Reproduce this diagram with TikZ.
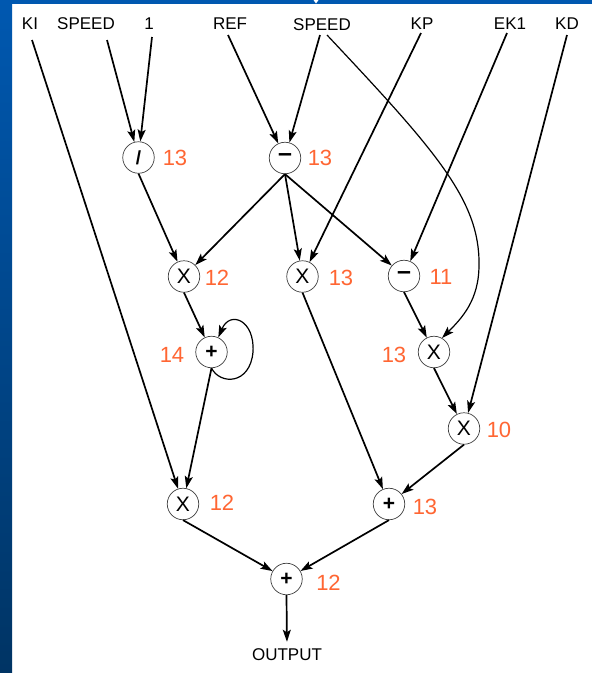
\documentclass[tikz,border=0pt]{standalone}
\usepackage{fontspec}
\setmainfont{Liberation Sans}
\usetikzlibrary{arrows.meta}
\definecolor{numor}{RGB}{255,102,51}
\definecolor{bluetop}{RGB}{0,88,176}
\definecolor{bluebot}{RGB}{0,52,100}
\begin{document}
\begin{tikzpicture}[x=1pt,y=-1pt,
  op/.style={circle,draw=black!75,line width=0.7pt,minimum size=31.5pt,inner sep=0pt,fill=white},
  num/.style={text=numor,font=\fontsize{22}{22}\selectfont,inner sep=0pt},
  lab/.style={font=\fontsize{17}{17}\selectfont,inner sep=0pt},
  arr/.style={line width=1.7pt,-{Stealth[length=12pt,width=8pt,inset=2.5pt]}},
  thinarr/.style={line width=1.2pt,-{Stealth[length=12pt,width=8pt,inset=2.5pt]}},
  xs/.style={font=\fontsize{21}{21}\selectfont},
  ps/.style={font=\fontsize{21}{21}\selectfont\bfseries},
  ms/.style={font=\fontsize{25}{25}\selectfont\bfseries},
  ds/.style={font=\fontsize{19}{19}\selectfont\bfseries}
]
% background
\useasboundingbox (0,0) rectangle (592,673);
\fill[white] (0,0) rectangle (592,673);
\shade[top color=bluetop,bottom color=bluebot] (0,0) rectangle (12,673);
\fill[bluetop] (0,0) rectangle (592,4);
\fill[white] (313.5,0) -- (318.5,0) -- (316,3.5) -- cycle;

% top labels
\node[lab] (lKI) at (30,24) {KI};
\node[lab] (lS1) at (86,24) {SPEED};
\node[lab] (l1) at (149,24) {1};
\node[lab] (lREF) at (230,24) {REF};
\node[lab] (lS2) at (322,25) {SPEED};
\node[lab] (lKP) at (422,24) {KP};
\node[lab] (lEK1) at (510,24) {EK1};
\node[lab] (lKD) at (567,24) {KD};

\coordinate (sKI) at (32,40);
\coordinate (sS1) at (107,40);
\coordinate (s1) at (152,37);
\coordinate (sREF) at (228,35);
\coordinate (sS2a) at (320,35);
\coordinate (sS2b) at (327,35);
\coordinate (sKP) at (421,33);
\coordinate (sEK1) at (507,33);
\coordinate (sKD) at (567,35);

% operator nodes
\node[op,ds] (div) at (138.5,157.5) {/};
\node[num] (ndiv) at (175,158) {13};
\node[op,ms] (sub1) at (285,158) {–};
\node[num] (nsub1) at (320,158) {13};
\node[op,xs] (X1) at (184,276.5) {X};
\node[num] (nX1) at (217,278) {12};
\node[op,xs] (X2) at (302.5,276.5) {X};
\node[num] (nX2) at (341,278) {13};
\node[op,ms] (sub2) at (404,276) {–};
\node[num] (nsub2) at (441,277) {11};
\node[op,ps] (p1) at (211.5,352) {+};
\node[num] (np1) at (172,355) {14};
\node[op,xs] (X3) at (434,352) {X};
\node[num] (nX3) at (394,355) {13};
\node[op,xs] (X4) at (464,428.5) {X};
\node[num] (nX4) at (499,430) {10};
\node[op,xs] (X5) at (183,504) {X};
\node[num] (nX5) at (222,503) {12};
\node[op,ps] (p2) at (389,504) {+};
\node[num] (np2) at (425,507) {13};
\node[op,ps] (p3) at (286.5,579) {+};
\node[num] (np3) at (328.5,583) {12};
\node[lab] (out) at (287,655) {OUTPUT};

% connectors
\draw[arr] (sKI) -- (X5);
\draw[arr] (sS1) -- (div);
\draw[arr] (s1) -- (div);
\draw[arr] (sREF) -- (sub1);
\draw[arr] (sS2a) -- (sub1);
\draw[thinarr] (sS2b) .. controls (435,150) and (480,200) .. (479,265)
   .. controls (479,300) and (462,318) .. (X3.60);
\draw[arr] (sKP) -- (X2);
\draw[arr] (sEK1) -- (sub2);
\draw[arr] (sKD) -- (X4);
\draw[arr] (div.south) -- (X1);
\draw[arr] (sub1.south) -- (X1);
\draw[arr] (sub1.south) -- (X2);
\draw[arr] (sub1.south) -- (sub2);
\draw[arr] (X1.south) -- (p1);
\draw[thinarr] (p1.south) .. controls (220,385) and (250,385) .. (253,352)
   .. controls (255,320) and (230,310) .. (p1.65);
\draw[arr] (p1.south) -- (X5);
\draw[arr] (X2.south) -- (p2);
\draw[arr] (sub2.south) -- (X3);
\draw[arr] (X3.south) -- (X4);
\draw[arr] (X4.south) -- (p2);
\draw[arr] (X5.south) -- (p3);
\draw[arr] (p2.south) -- (p3);
\draw[arr,shorten >=7pt] (p3.south) -- (out.north);
\end{tikzpicture}
\end{document}
